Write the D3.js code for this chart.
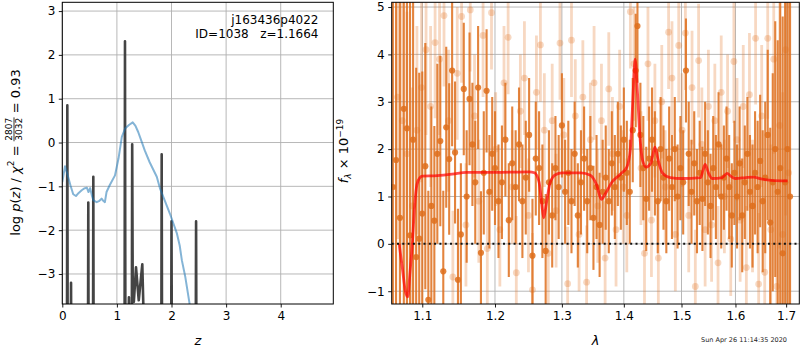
<!DOCTYPE html>
<html><head><meta charset="utf-8">
<script src="https://cdn.jsdelivr.net/npm/d3@7"></script>
<style>body{margin:0;background:#fff} svg{display:block} text{font-family:"DejaVu Sans",sans-serif}</style>
</head><body><svg id="c" width="800" height="350"></svg>
<script>
// ---------- Left panel data: p(z) ----------
const zTicks = [0, 1, 2, 3, 4];
const logpTicks = [-3, -2, -1, 0, 1, 2, 3];
const pzZ = [0, 0.085, 0.092, 0.099, 0.155, 0.160, 0.165, 0.470, 0.476, 0.482, 0.562, 0.568, 0.574,
  1.140, 1.148, 1.156, 1.200, 1.220, 1.235, 1.272, 1.280, 1.290, 1.310, 1.350, 1.400, 1.465, 1.510,
  1.813, 1.820, 1.827, 1.993, 2.000, 2.007, 2.443, 2.450, 2.457, 4.96];
const pzLogp = [-5, -5, 0.85, -5, -5, -3.20, -5, -5, -1.37, -5, -5, -0.78, -5,
  -5, 2.31, -5, -5, -3.53, -5, -5, -0.04, -3.4, -3.64, -2.85, -3.6, -2.78, -5,
  -5, -0.27, -5, -5, -1.80, -5, -5, -1.80, -5, -5];
const priorZ = [0, 0.05, 0.10, 0.15, 0.20, 0.25, 0.30, 0.355, 0.40, 0.45, 0.48, 0.51, 0.54, 0.57, 0.63, 0.68,
  0.72, 0.75, 0.78, 0.81, 0.87, 0.965, 1.03, 1.09, 1.15, 1.22, 1.29, 1.34, 1.39, 1.45, 1.51, 1.60, 1.73, 1.79,
  1.85, 1.97, 2.10, 2.15, 2.19, 2.25, 2.33, 2.36];
const priorLogp = [-0.9, -0.54, -0.75, -0.98, -1.18, -1.22, -1.15, -1.09, -1.05, -1.03, -1.13, -1.04, -1.2, -1.32, -1.36, -1.33,
  -1.28, -1.33, -1.36, -1.13, -0.97, -0.75, -0.36, 0.13, 0.32, 0.40, 0.46, 0.38, 0.24, 0.03, -0.18, -0.45, -0.78, -1.05,
  -1.24, -1.62, -2.08, -2.35, -2.69, -3.05, -3.67, -4.0];

// ---------- Right panel data: spectrum ----------
const waveTicks = [1.1, 1.2, 1.3, 1.4, 1.5, 1.6, 1.7];
const fluxTicks = [-1, 0, 1, 2, 3, 4, 5];
const darkWave = [1.062, 1.066, 1.071, 1.076, 1.080, 1.084, 1.088, 1.092, 1.096, 1.100, 1.104,
  1.108, 1.112, 1.116, 1.120, 1.124, 1.128, 1.132, 1.136, 1.140, 1.144,
  1.148, 1.152, 1.156, 1.160, 1.164, 1.168, 1.172, 1.176, 1.180, 1.184,
  1.188, 1.192, 1.196, 1.200, 1.205, 1.210, 1.215, 1.220, 1.225, 1.230,
  1.235, 1.240, 1.245, 1.250, 1.255, 1.260, 1.265, 1.270, 1.275, 1.280,
  1.285, 1.290, 1.295, 1.300, 1.305, 1.310, 1.315, 1.320, 1.325, 1.330,
  1.335, 1.340, 1.345, 1.350, 1.355, 1.360, 1.365, 1.370, 1.375, 1.380,
  1.385, 1.390, 1.395, 1.400, 1.405, 1.410, 1.415, 1.420, 1.423, 1.428,
  1.433, 1.438, 1.443, 1.448, 1.453, 1.458, 1.463, 1.468, 1.473, 1.478,
  1.483, 1.488, 1.493, 1.498, 1.503, 1.508, 1.513, 1.518, 1.523, 1.528,
  1.533, 1.538, 1.543, 1.548, 1.553, 1.558, 1.563, 1.568, 1.573, 1.578,
  1.583, 1.588, 1.593, 1.598, 1.603, 1.608, 1.613, 1.618, 1.623, 1.628,
  1.633, 1.638, 1.643, 1.648, 1.653, 1.658, 1.663, 1.668, 1.673, 1.678,
  1.683, 1.688, 1.693, 1.698, 1.703, 1.708];
const darkFlux = [1.2, 1.77, 0.55, 2.85, 2.44, 0.18, 2.2, -0.28, 0.11, 0.64, 1.64,
  -1.18, 0.8, 0.49, 1.9, 2.17, -0.58, 2.46, 1.79, 3.66, 1.93,
  -0.76, 0.2, 3.27, 1.0, 3.06, 2.1, 1.3, 3.3, -0.19, 1.5,
  3.23, 1.1, 1.9, 1.6, 0.9, 1.3, 2.2, 0.5, 1.7, 1.2,
  2.1, 0.9, 1.4, 2.3, -0.25, 1.8, 1.6, 0.9, -0.15, 1.3,
  0.6, 1.6, 1.2, 2.5, 1.1, 1.5, 0.9, 1.9, 0.6, 1.3,
  1.8, 0.9, 1.6, 0.55, 1.2, 0.4, 1.1, 1.4, 0.9, 1.7,
  1.2, 1.9, 1.4, 2.2, 1.5, 1.1, 2.4, 3.66, 4.6, 2.3,
  1.6, 0.95, 1.8, 2.2, 1.7, 0.9, 2.0, 1.4, 0.9, 1.8,
  1.2, 2.0, 1.0, 1.6, 1.3, 3.66, 1.9, 1.1, 1.7, 0.9,
  1.5, 0.95, 1.9, 1.3, 0.8, 1.6, 1.2, 2.1, 1.0, 1.4,
  1.8, 1.2, 0.6, 1.5, 1.0, 1.7, 0.6, 1.3, 1.9, 1.1,
  0.8, 1.5, 1.2, 1.75, 0.9, 1.4, 2.3, 0.45, 1.3, 2.0,
  1.1, 1.6, -0.2, 1.3, 2.0, 1.0];
const darkErr = [6, 6, 6, 6, 6, 6, 5, 4, 3.5, 3, 2.6,
  2.3, 2.1, 2, 1.9, 1.8, 1.7, 1.7, 1.6, 1.6, 1.5,
  1.5, 1.5, 1.4, 1.4, 1.4, 1.3, 1.3, 1.3, 1.3, 1.3,
  1.3, 1.2, 1.2, 1.2, 1.2, 1.2, 1.2, 1.2, 1.2, 1.2,
  1.2, 1.2, 1.2, 1.2, 1.2, 1.2, 1.2, 1.2, 1.2, 1.1,
  1.1, 1.1, 1.1, 1.1, 1.1, 1.1, 1.1, 1.1, 1.1, 1.1,
  1.1, 1.1, 1.1, 1.1, 1.1, 1.1, 1.1, 1.1, 1.1, 1.1,
  1.1, 1.1, 1.1, 1.1, 1.1, 1.1, 1.1, 1.2, 1.2, 1.1,
  1.1, 1.1, 1.1, 1.1, 1.1, 1.1, 1.1, 1.1, 1.1, 1.1,
  1.1, 1.1, 1.1, 1.1, 1.1, 1.1, 1.1, 1.1, 1.1, 1.1,
  1.1, 1.1, 1.1, 1.1, 1.1, 1.1, 1.1, 1.1, 1.1, 1.1,
  1.1, 1.1, 1.1, 1.1, 1.1, 1.2, 1.2, 1.2, 1.2, 1.2,
  1.3, 1.3, 1.4, 1.4, 1.5, 1.6, 1.8, 2.0, 2.3, 2.7,
  3.2, 4, 5, 6, 7, 8];
const lightWave = [1.068, 1.074, 1.080, 1.087, 1.093, 1.099, 1.105, 1.111, 1.117, 1.123,
  1.129, 1.135, 1.141, 1.147, 1.153, 1.159, 1.165, 1.171, 1.177, 1.183,
  1.189, 1.195, 1.201, 1.207, 1.213, 1.219, 1.225, 1.231, 1.237, 1.243,
  1.249, 1.255, 1.261, 1.267, 1.273, 1.279, 1.285, 1.291, 1.297, 1.303,
  1.309, 1.315, 1.321, 1.327, 1.333, 1.339, 1.345, 1.351, 1.357, 1.363,
  1.369, 1.375, 1.381, 1.387, 1.393, 1.399, 1.405, 1.411, 1.417, 1.429,
  1.435, 1.441, 1.447, 1.453, 1.459, 1.465, 1.471, 1.477, 1.483, 1.489,
  1.495, 1.501, 1.507, 1.513, 1.519, 1.525, 1.531, 1.537, 1.543, 1.549,
  1.555, 1.561, 1.567, 1.573, 1.579, 1.585, 1.591, 1.597, 1.603, 1.609,
  1.615, 1.621, 1.627, 1.633, 1.639, 1.645, 1.651, 1.657, 1.663, 1.669,
  1.675, 1.681, 1.687, 1.693, 1.699, 1.705];
const lightFlux = [3.1, 2.6, 1.9, 0.8, 2.4, 3.3, 4.1, 2.9, 4.25, 3.9,
  4.82, 2.6, -0.7, 3.6, 4.8, 0.4, 4.94, 2.7, 0.9, 4.4,
  -0.1, 4.88, 2.0, 0.3, 3.4, 4.36, 1.2, -0.61, 2.8, 3.5,
  0.6, -0.97, 3.2, 4.2, 2.4, -0.2, 2.6, 0.7, 4.24, 2.3,
  -0.84, 4.3, 2.7, 0.2, 3.1, -0.81, 2.2, 3.4, 0.8, 2.6,
  -0.3, 3.27, 1.9, 0.3, 2.9, 1.2, 0.6, 4.9, 3.8, 1.6,
  -0.2, 3.8, 0.5, 2.6, -0.3, 3.0, 1.2, 4.47, 3.5, 0.2,
  4.19, 2.4, 4.45, 0.6, 3.3, -0.9, 3.87, 2.1, 0.3, 2.9,
  0.4, 2.6, -0.4, 3.2, 1.0, 2.8, 0.1, 3.85, 2.2, 0.5,
  2.9, -0.5, 3.15, 0.8, 4.34, -0.85, 2.7, -0.6, 4.34, 0.3,
  3.9, -0.9, 2.5, 0.2, 4.1, 1.5];
const lightErr = [3, 3, 3, 2.5, 2.2, 2, 1.8, 1.7, 1.6, 1.6,
  1.5, 1.5, 1.4, 1.4, 1.4, 1.3, 1.3, 1.3, 1.3, 1.3,
  1.2, 1.2, 1.2, 1.2, 1.2, 1.2, 1.2, 1.2, 1.2, 1.2,
  1.2, 1.2, 1.2, 1.2, 1.2, 1.2, 1.2, 1.2, 1.2, 1.2,
  1.2, 1.2, 1.2, 1.2, 1.2, 1.2, 1.2, 1.2, 1.2, 1.2,
  1.2, 1.2, 1.2, 1.2, 1.2, 1.2, 1.2, 1.2, 1.2, 1.2,
  1.2, 1.2, 1.2, 1.2, 1.2, 1.2, 1.2, 1.2, 1.2, 1.2,
  1.2, 1.2, 1.2, 1.2, 1.2, 1.2, 1.2, 1.2, 1.2, 1.2,
  1.2, 1.2, 1.2, 1.2, 1.2, 1.2, 1.2, 1.3, 1.3, 1.3,
  1.3, 1.3, 1.3, 1.4, 1.4, 1.5, 1.5, 1.6, 1.7, 1.8,
  2, 2.2, 2.6, 3, 3.5, 4];
const modelWave = [1.070, 1.074, 1.078, 1.081, 1.084, 1.087, 1.090, 1.093, 1.097, 1.100, 1.12, 1.14, 1.16, 1.20, 1.25,
  1.258, 1.265, 1.269, 1.272, 1.276, 1.282, 1.290, 1.30, 1.33, 1.345, 1.355, 1.363, 1.369, 1.38, 1.395, 1.405,
  1.411, 1.415, 1.419, 1.423, 1.427, 1.432, 1.438, 1.446, 1.453, 1.459, 1.466, 1.48, 1.50, 1.535, 1.539, 1.543,
  1.549, 1.556, 1.575, 1.584, 1.591, 1.60, 1.62, 1.635, 1.65, 1.67, 1.703];
const modelFlux = [0.0, -0.5, -1.0, -1.12, -0.6, 0.0, 0.8, 1.25, 1.40, 1.43, 1.44, 1.47, 1.51, 1.51, 1.52,
  1.50, 1.30, 0.85, 0.55, 0.85, 1.30, 1.46, 1.50, 1.50, 1.45, 1.25, 0.94, 1.05, 1.30, 1.48, 1.62,
  2.0, 3.0, 3.9, 3.2, 2.3, 1.75, 1.62, 1.70, 2.04, 1.75, 1.50, 1.40, 1.38, 1.40, 1.55, 1.68,
  1.50, 1.38, 1.40, 1.49, 1.43, 1.38, 1.40, 1.41, 1.37, 1.34, 1.33];

// ---------- Layout ----------
const svg = d3.select("#c");
const L = {x0: 62.3, x1: 333.3, y0: 2.3, y1: 304};
const R = {x0: 391.7, x1: 799.3, y0: 2.3, y1: 304};
const xz = d3.scaleLinear().domain([0, 4.963]).range([L.x0, L.x1]);
const yp = d3.scaleLinear().domain([-3.685, 3.2]).range([L.y1, L.y0]);
const xw = d3.scaleLog().domain([1.0605, 1.727]).range([R.x0, R.x1]);
const yf = d3.scaleLinear().domain([-1.27, 5.1]).range([R.y1, R.y0]);

const defs = svg.append("defs");
defs.append("clipPath").attr("id", "clipL").append("rect")
  .attr("x", L.x0).attr("y", L.y0).attr("width", L.x1 - L.x0).attr("height", L.y1 - L.y0);
defs.append("clipPath").attr("id", "clipR").append("rect")
  .attr("x", R.x0).attr("y", R.y0).attr("width", R.x1 - R.x0).attr("height", R.y1 - R.y0);

function grid(b, xs, ys, xt, yt) {
  const g = svg.append("g").attr("stroke", "#b0b0b0").attr("stroke-width", 0.9);
  g.selectAll(null).data(xt).join("line")
    .attr("x1", d => xs(d)).attr("x2", d => xs(d)).attr("y1", b.y0).attr("y2", b.y1);
  g.selectAll(null).data(yt).join("line")
    .attr("y1", d => ys(d)).attr("y2", d => ys(d)).attr("x1", b.x0).attr("x2", b.x1);
}
grid(L, xz, yp, zTicks, logpTicks);
grid(R, xw, yf, waveTicks, fluxTicks);

// ---------- Left panel marks ----------
const gLp = svg.append("g").attr("clip-path", "url(#clipL)");
const pz = d3.zip(pzZ, pzLogp);
gLp.append("path").datum(pz)
  .attr("d", d3.line().x(d => xz(d[0])).y(d => yp(d[1])))
  .attr("fill", "none").attr("stroke", "#3a3a3a").attr("stroke-opacity", 0.95)
  .attr("stroke-width", 2.6).attr("stroke-linejoin", "round");
const prior = d3.zip(priorZ, priorLogp);
gLp.append("path").datum(prior)
  .attr("d", d3.line().x(d => xz(d[0])).y(d => yp(d[1])))
  .attr("fill", "none").attr("stroke", "#1f77b4").attr("stroke-opacity", 0.55)
  .attr("stroke-width", 2).attr("stroke-linejoin", "round");

// ---------- Right panel marks ----------
const gRp = svg.append("g").attr("clip-path", "url(#clipR)");
function errPts(gx, wave, flux, err, color, op, r, w) {
  const data = d3.zip(wave, flux, err);
  const g = gx.append("g");
  g.selectAll(null).data(data).join("line")
    .attr("x1", d => xw(d[0])).attr("x2", d => xw(d[0]))
    .attr("y1", d => yf(d[1] - d[2])).attr("y2", d => yf(d[1] + d[2]))
    .attr("stroke", color).attr("stroke-opacity", op).attr("stroke-width", w);
  g.selectAll(null).data(data).join("circle")
    .attr("cx", d => xw(d[0])).attr("cy", d => yf(d[1])).attr("r", r)
    .attr("fill", color).attr("fill-opacity", op);
}
errPts(gRp, lightWave, lightFlux, lightErr, "rgb(225,115,35)", 0.28, 3.4, 2.8);
errPts(gRp, darkWave, darkFlux, darkErr, "rgb(222,110,28)", 0.85, 3.1, 2.1);
gRp.append("path").datum(d3.zip(modelWave, modelFlux))
  .attr("d", d3.line().x(d => xw(d[0])).y(d => yf(d[1])).curve(d3.curveMonotoneX))
  .attr("fill", "none").attr("stroke", "red").attr("stroke-opacity", 0.7)
  .attr("stroke-width", 2.8).attr("stroke-linejoin", "round");
gRp.append("line").attr("x1", R.x0).attr("x2", R.x1).attr("y1", yf(0)).attr("y2", yf(0))
  .attr("stroke", "#111").attr("stroke-width", 2).attr("stroke-dasharray", "2,3.3");

// ---------- Axes ----------
function styleAxis(g) {
  g.attr("font-size", 12).attr("font-family", "DejaVu Sans");
  g.select(".domain").remove();
  g.selectAll(".tick line").attr("stroke", "#000").attr("stroke-width", 0.9);
  g.selectAll(".tick text").attr("fill", "#000");
}
svg.append("g").attr("transform", `translate(0,${L.y1})`)
  .call(d3.axisBottom(xz).tickValues(zTicks).tickSize(3.5).tickPadding(3.5).tickFormat(d3.format("d"))).call(styleAxis);
svg.append("g").attr("transform", `translate(${L.x0},0)`)
  .call(d3.axisLeft(yp).tickValues(logpTicks).tickSize(3.5).tickPadding(3.5).tickFormat(d3.format("d"))).call(styleAxis);
svg.append("g").attr("transform", `translate(0,${R.y1})`)
  .call(d3.axisBottom(xw).tickValues(waveTicks).tickSize(3.5).tickPadding(3.5).tickFormat(d3.format(".1f"))).call(styleAxis);
svg.append("g").attr("transform", `translate(${R.x0},0)`)
  .call(d3.axisLeft(yf).tickValues(fluxTicks).tickSize(3.5).tickPadding(3.5).tickFormat(d3.format("d"))).call(styleAxis);

for (const b of [L, R]) {
  svg.append("rect").attr("x", b.x0).attr("y", b.y0).attr("width", b.x1 - b.x0).attr("height", b.y1 - b.y0)
    .attr("fill", "none").attr("stroke", "#000").attr("stroke-width", 1);
}

// ---------- Texts ----------
svg.append("text").attr("x", 318.5).attr("y", 24).attr("text-anchor", "end").attr("font-size", 12)
  .text("j163436p4022");
svg.append("text").attr("x", 318.5).attr("y", 38).attr("text-anchor", "end").attr("font-size", 12)
  .attr("xml:space", "preserve").style("white-space", "pre").text("ID=1038   z=1.1664");

svg.append("text").attr("x", (L.x0 + L.x1) / 2).attr("y", 345).attr("text-anchor", "middle")
  .attr("font-size", 13).attr("font-style", "italic").text("z");
svg.append("text").attr("x", (R.x0 + R.x1) / 2).attr("y", 345).attr("text-anchor", "middle")
  .attr("font-size", 13).attr("font-style", "italic").text("λ");

// left y label (rotated, with stacked fraction)
{
  const g = svg.append("g").attr("transform", "translate(19.5,152.5) rotate(-90)");
  const inner = g.append("g");
  const t1 = inner.append("text").attr("font-size", 13).attr("x", 0).attr("y", 0);
  t1.append("tspan").text("log ");
  t1.append("tspan").attr("font-style", "italic").text("p");
  t1.append("tspan").text("(");
  t1.append("tspan").attr("font-style", "italic").text("z");
  t1.append("tspan").text(") / ");
  t1.append("tspan").attr("font-style", "italic").text("χ");
  t1.append("tspan").attr("font-size", 9).attr("dy", -5.5).text("2");
  t1.append("tspan").attr("dy", 5.5).attr("xml:space", "preserve").style("white-space", "pre").text(" = ");
  const w1 = t1.node().getComputedTextLength();
  const num = inner.append("text").attr("font-size", 9).attr("text-anchor", "middle").text("2807");
  const den = inner.append("text").attr("font-size", 9).attr("text-anchor", "middle").text("3032");
  const fw = Math.max(num.node().getComputedTextLength(), den.node().getComputedTextLength());
  const fc = w1 + fw / 2 + 0.5;
  num.attr("x", fc).attr("y", -7.4);
  den.attr("x", fc).attr("y", 2.6);
  inner.append("line").attr("x1", w1).attr("x2", w1 + fw + 1).attr("y1", -5.5).attr("y2", -5.5)
    .attr("stroke", "#000").attr("stroke-width", 0.8);
  const t2 = inner.append("text").attr("font-size", 13).attr("x", w1 + fw + 1).attr("y", 0)
    .attr("xml:space", "preserve").style("white-space", "pre").text(" = 0.93");
  const total = w1 + fw + 1 + t2.node().getComputedTextLength();
  inner.attr("transform", `translate(${-total / 2},0)`);
}
// right y label
{
  const g = svg.append("g").attr("transform", "translate(348,151) rotate(-90)");
  const t = g.append("text").attr("font-size", 13).attr("text-anchor", "middle");
  t.append("tspan").attr("font-style", "italic").text("f");
  t.append("tspan").attr("font-size", 9).attr("font-style", "italic").attr("dy", 3).text("λ");
  t.append("tspan").attr("dy", -3).attr("xml:space", "preserve").style("white-space", "pre").text(" × 10");
  t.append("tspan").attr("font-size", 9).attr("dy", -5.5).text("−19");
}
svg.append("text").attr("x", 787).attr("y", 342).attr("text-anchor", "end").attr("font-size", 6.5)
  .attr("fill", "#222").text("Sun Apr 26 11:14:35 2020");
</script></body></html>
